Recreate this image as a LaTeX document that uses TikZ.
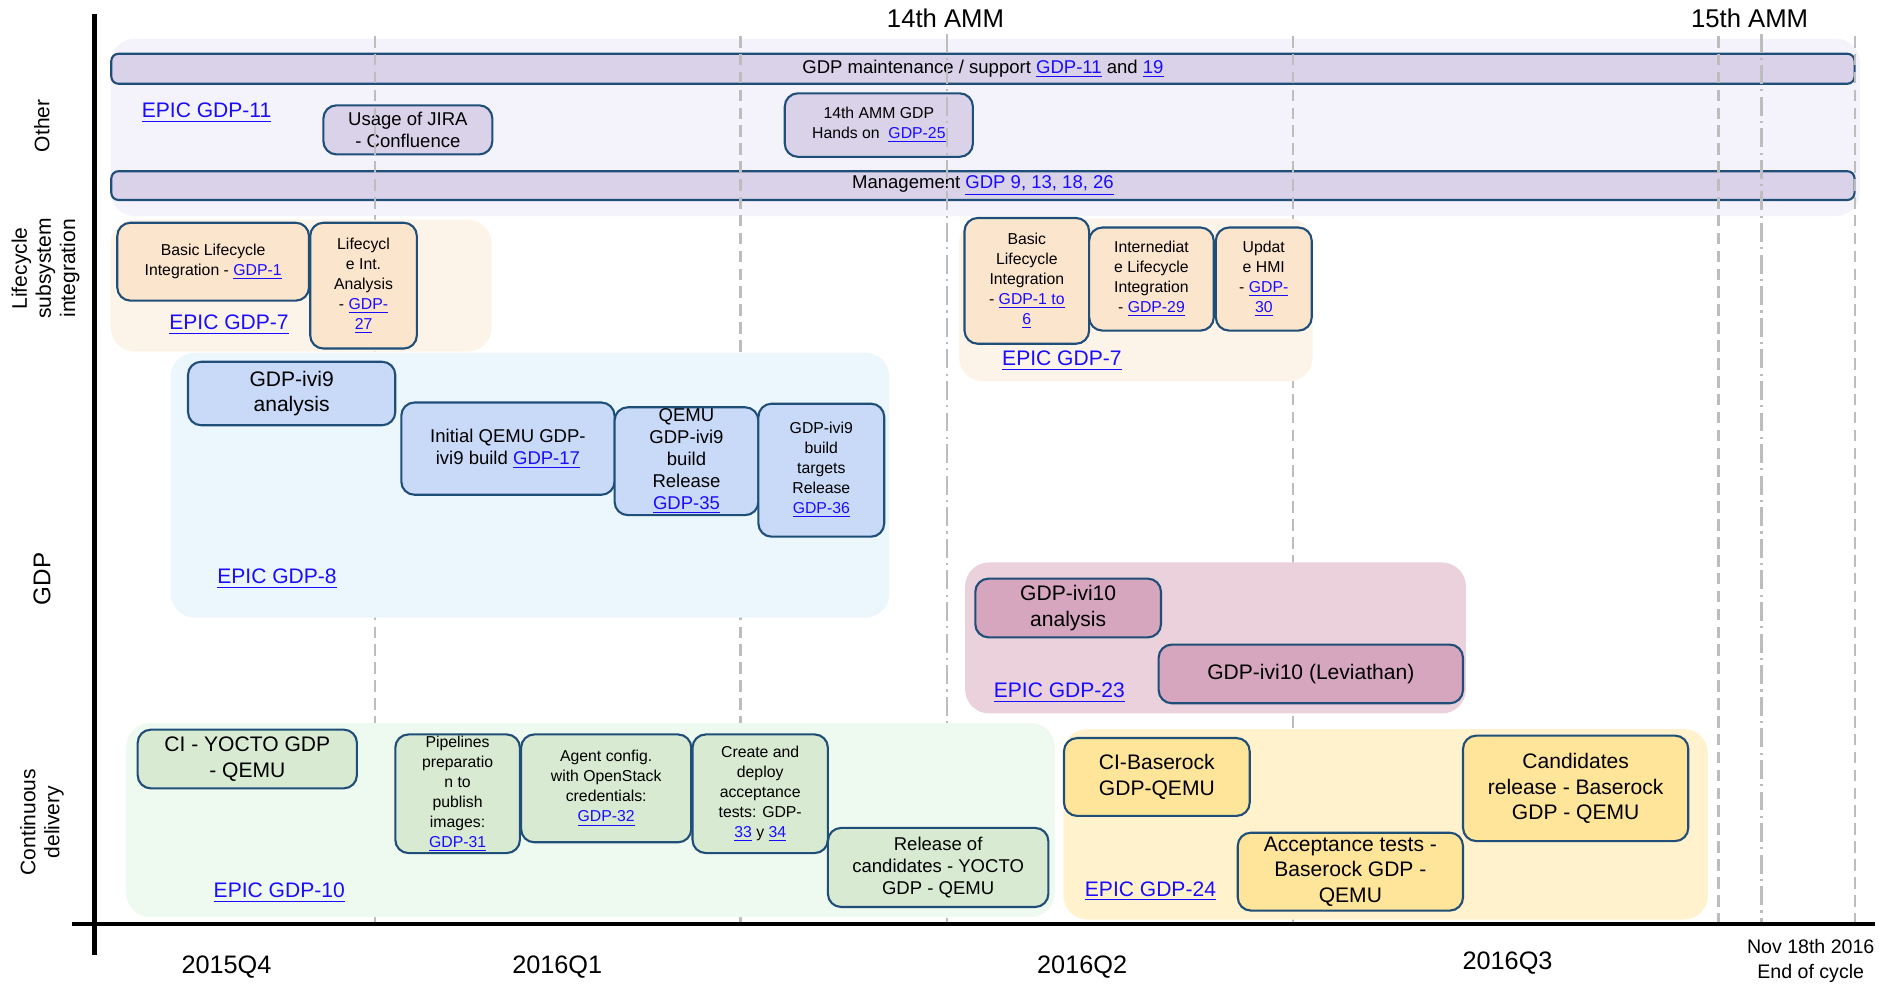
\documentclass[tikz,border=0pt]{standalone}
\usepackage{fontspec}
\setmainfont{Liberation Sans}
\usetikzlibrary{positioning}

\definecolor{otherbg}{HTML}{F4F2FB}
\definecolor{otherbox}{HTML}{D9D2E9}
\definecolor{lifebg}{HTML}{FDF4E9}
\definecolor{lifebox}{HTML}{FCE5CD}
\definecolor{gdpbg}{HTML}{ECF6FD}
\definecolor{gdpbox}{HTML}{C9DAF8}
\definecolor{ivibg}{HTML}{EAD1DC}
\definecolor{ivibox}{HTML}{D5A6BD}
\definecolor{cdbg}{HTML}{EEF9F0}
\definecolor{cdbox}{HTML}{D9EAD3}
\definecolor{basebg}{HTML}{FFF2CC}
\definecolor{basebox}{HTML}{FFE599}
\definecolor{edge}{HTML}{1F4E79}
\definecolor{linkblue}{HTML}{1A0DFF}
\definecolor{gridgrey}{HTML}{BDBDBD}

\newcommand{\lnk}[1]{\textcolor{linkblue}{\underline{#1}}}

\tikzset{
	band/.style={fill=#1, rounded corners=0.4cm, anchor=north west, inner sep=0pt},
	task/.style={draw=edge, line width=1pt, fill=#1, rounded corners=0.22cm,
		anchor=north west, align=center, inner sep=0.5pt},
	txts/.style={font=\fontsize{7.5}{9.5}\selectfont},
	txtm/.style={font=\fontsize{8.8}{10.4}\selectfont},
	txtl/.style={font=\fontsize{10}{12.2}\selectfont},
	epic/.style={anchor=west, inner sep=0pt, font=\fontsize{10}{12}\selectfont},
	side/.style={rotate=90, align=center, font=\fontsize{10}{11.5}\selectfont},
	vline/.style={draw=gridgrey, line width=1.1pt, dash pattern=on 5.5pt off 3pt},
	vmark/.style={draw=gridgrey, line width=1.1pt, dash pattern=on 9pt off 2.5pt on 1pt off 2.5pt},
	axis/.style={line width=2.3pt},
}

\begin{document}
\begin{tikzpicture}[x=0.02cm, y=-0.02cm]
	\useasboundingbox (0,0) rectangle (1568,821);

	% Other
	\node [band=otherbg, minimum width=29.2cm, minimum height=2.96cm] (otherband) at (92,32) {};
	\node [task=otherbox, txtm, minimum width=29.1cm, minimum height=0.5cm, rounded corners=0.12cm] (maint) at (92,44) {GDP maintenance / support \lnk{GDP-11} and \lnk{19}};
	\node [task=otherbox, txtm, minimum width=29.1cm, minimum height=0.48cm, rounded corners=0.12cm] (mgmt) at (92,142) {Management \lnk{GDP 9, 13, 18, 26}};
	\node [task=otherbox, txtm, minimum width=2.82cm, minimum height=0.82cm] (jira) at (269,87) {Usage of JIRA\\- Confluence};
	\node [task=otherbox, txts, minimum width=3.14cm, minimum height=1.06cm] (handson) at (654,77) {14th AMM GDP\\Hands on \ \lnk{GDP-25}};
	\node [epic] (epicother) at (118,94) {\lnk{EPIC GDP-11}};

	% quarters and meetings
	\foreach \xq in {313,618,1079,1434,1548}
		\draw [vline] (\xq,30) -- (\xq,771);
	\foreach \xq in {790,1470}
		\draw [vmark] (\xq,28) -- (\xq,771);

	% Lifecycle
	\node [band=lifebg, minimum width=6.36cm, minimum height=2.2cm] (lifeband) at (92,183) {};
	\node [task=lifebox, txts, minimum width=3.2cm, minimum height=1.3cm] (basiclc) at (97,185) {Basic Lifecycle\\Integration - \lnk{GDP-1}};
	\node [task=lifebox, txts, minimum width=1.78cm, minimum height=2.1cm] (lcanalysis) at (258,185) {Lifecycl\\e Int.\\Analysis\\- \lnk{GDP-}\\\lnk{27}};
	\node [epic] (epiclife) at (141,271) {\lnk{EPIC GDP-7}};

	\node [band=lifebg, minimum width=5.9cm, minimum height=2.72cm] (lifebandb) at (800,182) {};
	\node [task=lifebox, txts, minimum width=2.08cm, minimum height=2.1cm] (basiclcb) at (804,181) {Basic\\Lifecycle\\Integration\\- \lnk{GDP-1 to}\\\lnk{6}};
	\node [task=lifebox, txts, minimum width=2.08cm, minimum height=1.72cm] (interlc) at (908,189) {Internediat\\e Lifecycle\\Integration\\- \lnk{GDP-29}};
	\node [task=lifebox, txts, minimum width=1.6cm, minimum height=1.72cm, right=0pt of interlc] (hmi) {Updat\\e HMI\\- \lnk{GDP-}\\\lnk{30}};
	\node [epic] (epiclifeb) at (836,301) {\lnk{EPIC GDP-7}};

	% GDP
	\node [band=gdpbg, minimum width=12cm, minimum height=4.42cm] (gdpband) at (142,294) {};
	\node [task=gdpbox, txtl, minimum width=3.46cm, minimum height=1.06cm] (ivinine) at (156,301) {GDP-ivi9\\analysis};
	\node [task=gdpbox, txtm, minimum width=3.56cm, minimum height=1.54cm] (qemuinit) at (334,335) {Initial QEMU GDP-\\ivi9 build \lnk{GDP-17}};
	\node [task=gdpbox, txtm, minimum width=2.4cm, minimum height=1.8cm] (qemurel) at (512,339) {QEMU\\GDP-ivi9\\build\\Release\\\lnk{GDP-35}};
	\node [task=gdpbox, txts, minimum width=2.1cm, minimum height=2.22cm] (targets) at (632,336) {GDP-ivi9\\build\\targets\\Release\\\lnk{GDP-36}};
	\node [epic] (epicgdp) at (181,483) {\lnk{EPIC GDP-8}};

	\node [band=ivibg, minimum width=8.36cm, minimum height=2.52cm] (iviband) at (805,469) {};
	\node [task=ivibox, txtl, minimum width=3.1cm, minimum height=0.98cm] (ivitenan) at (813,482) {GDP-ivi10\\analysis};
	\node [task=ivibox, txtl, minimum width=5.08cm, minimum height=0.98cm] (leviathan) at (966,537) {GDP-ivi10 (Leviathan)};
	\node [epic] (epicivi) at (829,578) {\lnk{EPIC GDP-23}};

	% Continuous delivery
	\node [band=cdbg, minimum width=15.5cm, minimum height=3.24cm] (cdband) at (105,603) {};
	\node [task=cdbox, txtl, minimum width=3.66cm, minimum height=0.98cm] (ciyocto) at (114,608) {CI - YOCTO GDP\\- QEMU};
	\node [task=cdbox, txts, minimum width=2.08cm, minimum height=1.98cm] (pipelines) at (329,612) {Pipelines\\preparatio\\n to\\publish\\images:\\\lnk{GDP-31}};
	\node [task=cdbox, txts, minimum width=2.84cm, minimum height=1.8cm] (agent) at (434,612) {Agent config.\\with OpenStack\\credentials:\\\lnk{GDP-32}};
	\node [task=cdbox, txts, minimum width=2.26cm, minimum height=1.98cm] (accept) at (577,612) {Create and\\deploy\\acceptance\\tests: GDP-\\\lnk{33} y \lnk{34}};
	\node [task=cdbox, txtm, minimum width=3.68cm, minimum height=1.32cm] (relyocto) at (690,690) {Release of\\candidates - YOCTO\\GDP - QEMU};
	\node [epic] (epiccd) at (178,745) {\lnk{EPIC GDP-10}};

	\node [band=basebg, minimum width=10.76cm, minimum height=3.18cm] (baseband) at (887,608) {};
	\node [task=basebox, txtl, minimum width=3.1cm, minimum height=1.3cm] (cibase) at (887,615) {CI-Baserock\\GDP-QEMU};
	\node [task=basebox, txtl, minimum width=3.76cm, minimum height=1.3cm] (acceptbase) at (1032,694) {Acceptance tests -\\Baserock GDP -\\QEMU};
	\node [task=basebox, txtl, minimum width=3.76cm, minimum height=1.76cm] (candidates) at (1220,613) {Candidates\\release - Baserock\\GDP - QEMU};
	\node [epic] (epicbase) at (905,744) {\lnk{EPIC GDP-24}};

	% axes
	\draw [axis] (60,771) -- (1565,771);
	\draw [axis] (79,12) -- (79,797);

	% lanes
	\node [side] (lblother) at (35,105) {Other};
	\node [side] (lbllife) at (38,224) {Lifecycle\\subsystem\\integration};
	\node [side, font=\fontsize{11.5}{13}\selectfont] (lblgdp) at (35,483) {GDP};
	\node [side] (lblcd) at (35,686) {Continuous\\delivery};

	% timeline
	\node [font=\fontsize{12.2}{14}\selectfont] (ammfourteen) at (789,15) {14th AMM};
	\node [font=\fontsize{12.2}{14}\selectfont] (ammfifteen) at (1460,15) {15th AMM};
	\node [font=\fontsize{12}{14}\selectfont] (qfour) at (189,807) {2015Q4};
	\node [font=\fontsize{12}{14}\selectfont] (qone) at (465,807) {2016Q1};
	\node [font=\fontsize{12}{14}\selectfont] (qtwo) at (903,807) {2016Q2};
	\node [font=\fontsize{12}{14}\selectfont] (qthree) at (1258,804) {2016Q3};
	\node [align=center, font=\fontsize{9.3}{12}\selectfont] (endcycle) at (1511,802) {Nov 18th 2016\\End of cycle};
\end{tikzpicture}
\end{document}
